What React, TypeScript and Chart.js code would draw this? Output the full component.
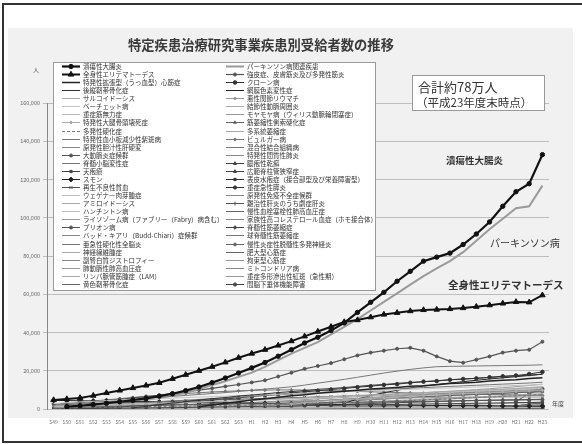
import React, { useEffect, useRef } from "react";
import { Chart, registerables } from "chart.js";
import { drawPoint } from "chart.js/helpers";

Chart.register(...registerables);

// x categories (fiscal years)
const years = ["S49","S50","S51","S52","S53","S54","S55","S56","S57","S58","S59","S60","S61","S62","S63","H1","H2","H3","H4","H5","H6","H7","H8","H9","H10","H11","H12","H13","H14","H15","H16","H17","H18","H19","H20","H21","H22","H23"];

// y axis
const yMin = 0;
const yMax = 160000;
const yStep = 20000;

// series values: each list runs from the first year of the series to H23
const uc = [1200,1700,2300,3000,3800,4700,5600,6700,8000,9600,11500,13800,16200,18800,21500,24300,27600,31000,34500,37500,41000,45000,50500,55800,61000,66800,72000,77300,79400,81500,86000,91500,97800,106000,113600,117800,133000];
const sle = [4700,5200,5800,7000,8400,9700,11000,12300,13700,15800,17900,20000,22100,24400,26800,29000,31000,33200,35500,38000,40500,43000,45500,46500,48000,49400,50300,51200,51800,52000,52300,52800,53500,54300,55200,56000,55800,59500];
const dcm = [1200,2100,3000,3800,4700,5400,6200,6900,7500,8200,8700,9300,9800,10400,10800,11300,11900,12200,12700,13300,13600,14000,14600,15000,15300,15900,16300];
const opll = [600,1400,2300,3100,3800,4700,5400,6000,6800,7300,7900,8600,9100,9600,10300,10700,11200,11800,12400,12800,13400,13900,14300,14800,15300,15600,16100,16500,17000,17300,17700,18200];
const sarcoid = [1000,1150,1400,1550,1800,2050,2250,2500,2800,3000,3250,3550,3800,4050,4400,4650,4950,5300,5600,5850,6200,6500,6750,7100,7400,7650,8000,8300,8550,8900,9200,9450,9800,10100,10350,10700,11000,11400];
const behcet = [2800,3300,3700,4050,4400,4700,4950,5250,5500,5700,6000,6250,6450,6700,7000,7250,7450,7700,8000,8300,8500,8800,9050,9300,9600,9800,10100,10300,10550,10800,11000,11300,11500,11750,12000,12300,12500,12800];
const mg = [1500,1700,1900,2050,2300,2500,2700,2900,3100,3250,3500,3700,3900,4050,4300,4500,4800,5000,5250,5500,5800,6000,6300,6600,6850,7200,7500,7800,8050,8400,8700,9000,9300,9550,9900,10200,10500,10900];
const onfh = [2500,3200,3800,4300,4800,5200,5600,6000,6400,6800,7100,7400,7700,8000,8300,8600,8900,9200,9500,9800];
const ms = [500,580,690,780,900,980,1100,1190,1300,1420,1500,1610,1700,1820,1900,2000,2150,2300,2500,2680,2900,3100,3320,3500,3700,3950,4200,4480,4800,5100,5350,5700,6000,6280,6600,6950,7300,7700];
const itp = [1500,2200,2900,3500,4100,4600,5100,5600,6100,6600,7100,7600,8100,8600,9200,9800,10400,11000,11600,12500,13500,14500,15500,16600,17700,18800,19800,20700,21500,22100,22300,22400,22500,22600,22700,22800,22900,23100];
const pbc = [1500,2300,3000,3600,4200,4700,5200,5600,6000,6400,6800,7200,7500,7900,8200,8500,8800,9100,9400,9700,10000,10300];
const takayasu = [800,1000,1200,1350,1500,1700,1800,1950,2100,2200,2300,2400,2500,2650,2700,2800,2900,3000,3100,3200,3300,3400,3500,3600,3700,3800,3900,4000,4100,4200,4300,4400,4500,4600,4700,4800,4900];
const scd = [1000,1500,2000,2500,3000,3400,3800,4200,4600,5000,5400,5800,6200,6600,7000,7400,7800,8200,8600,9000,9400,9700,10000,10300,10600,10900,11200,11500,11800,12100,12400,12700,13000,13300,13600,14000];
const pemphigus = [200,250,300,350,400,450,500,560,620,700,800,900,1000,1100,1200,1300,1400,1500,1600,1700,1800,1900,2000,2100,2200,2300,2400,2500,2600,2700,2800,2900,3000,3100,3200,3300,3400,3500];
const smon = [4500,4400,4300,4200,4100,4000,3900,3800,3700,3600,3500,3400,3300,3200,3100,3000,2900,2800,2700,2600,2500,2400,2300,2200,2100,2050,2000,1950,1900,1850,1800,1750,1700,1650,1600,1580,1550,1520];
const aa = [2000,2300,2600,2850,3100,3300,3500,3700,3900,4100,4300,4500,4700,4900,5100,5300,5500,5700,5900,6100,6300,6500,6700,6900,7100,7300,7500,7700,7900,8100,8300,8500,8700,8900,9100,9300,9500,9800];
const wegener = [100,150,200,250,300,350,400,450,500,550,600,650,700,750,800,850,900,950,1000,1100,1200,1300,1400,1500,1600,1700,1750,1830];
const amyloid = [100,150,200,250,300,350,400,450,500,550,600,650,700,750,800,850,900,950,1000,1050,1100,1150,1200,1250,1300,1350,1400,1450,1500,1600,1650,1700,1800];
const huntington = [100,130,160,190,220,250,280,310,340,370,400,430,460,490,520,550,580,610,640,670,700,720,740,760,780,800,820,840,850,860,870];
const lysosomal = [300,400,450,500,550,600,650,700,780,850,910];
const prion = [150,200,240,270,300,320,340,360,380,400,420,440,450,460,470];
const buddChiari = [100,120,140,150,160,170,180,190,200,210,220,230,240,246];
const sspe = [60,65,70,72,74,76,78,80,82,83,84,85,85,85];
const nf = [500,800,1100,1400,1700,1900,2100,2300,2500,2700,2900,3100,3300,3600];
const ald = [60,80,100,110,120,130,140,150,160,170,180,193];
const pah = [300,400,500,600,700,800,900,1000,1200,1400,1600,1800,2000,2300];
const lam = [300,450,560];
const olf = [800,1700,2360];

const parkinson = [1800,2800,3800,4800,5800,7000,8500,10500,12500,14500,16800,19000,22000,25500,29000,32000,35000,39000,43000,47000,51500,56000,60500,65000,69500,73500,77300,82000,88000,94000,99500,105000,106000,116800];
const scleroderma = [2500,3000,3500,4000,4500,5100,5800,6500,7200,8100,9000,9900,10800,11800,12800,13900,15000,17000,19000,21000,22500,24000,26000,28000,29500,30500,31500,32000,30500,27500,25000,24200,25800,27500,29500,30500,31000,35200];
const crohn = [300,500,800,1100,1500,1900,2400,2900,3500,4000,4700,5300,5800,6500,7200,7700,8400,9000,9500,10200,10700,11400,11900,12600,13000,13700,14300,14600,15300,15700,16000,16600,17100,17500,18300,19400];
const retinitis = [3000,5200,7000,8500,9800,11000,12000,12800,13600,14300,15000,15700,16300,16900,17500,18200];
const mra = [600,900,1200,1500,1800,2000,2200,2400,2600,2800,3000,3200,3400,3600,3800,4000,4200,4400,4600,4800,5000,5200,5400,5600,5800,5900,6000,6100,6200,6200,6300,6300,6300,6250,6255];
const pn = [200,300,400,500,600,700,800,900,1000,1100,1250,1400,1550,1700,1850,2000,2200,2400,2600,2800,3000,3300,3600,3900,4200,4500,4800,5100,5400,5700,6000,6300,6600,6900,7300,7700,8000];
const moyamoya = [500,900,1300,1700,2100,2500,2900,3300,3700,4100,4500,4900,5300,5700,6100,6500,6900,7300,7700,8100,8500,8900,9300,9700,10100,10600,11100,11700,12300,13000];
const als = [800,950,1100,1250,1400,1550,1700,1850,2000,2150,2300,2500,2700,2900,3100,3300,3500,3700,3900,4100,4300,4500,4700,4900,5200,5500,5800,6100,6400,6700,7000,7300,7600,7900,8200,8500,8800,9000];
const msa = [1000,1400,1800,2200,2600,3000,3400,3800,4200,4600,5000,5400,5800,6200,6600,7000,7400,7800,8200,8700,9200,9700,10200,10700,11200,11700];
const buerger = [3000,3600,4200,4800,5400,6000,6600,7100,7600,8100,8500,8900,9200,9500,9700,9900,10000,10000,9900,9800,9600,9400,9200,9000,8800,8600,8400,8200,8000,7900,7800,7700,7600,7500,7400,7300,7100];
const mctd = [2500,3000,3500,4000,4400,4800,5200,5600,6000,6400,6800,7100,7400,7700,8000,8300,8600,8900,9100];
const iip = [1500,2200,2800,3300,3700,4100,4400,4700,5000,5300,5600,5900,6200,6500,6800,7100,7400];
const psoriasis = [300,400,500,600,700,800,900,1000,1050,1100,1150,1200,1250,1300,1350,1400,1450,1500,1550,1600,1650,1700,1780,1840];
const lscs = [500,800,1100,1400,1700,2000,2300,2500,2700,2900,3100,3300,3500,3700,3900,4100,4300,4500,4600,4700,4800,4950,5100];
const eb = [100,120,140,160,180,200,210,220,230,240,250,260,270,280,290,300,305,310,315,320,325,328,330,332,334];
const sap = [300,400,500,600,700,800,900,1000,1100,1200,1300,1400,1500,1600,1700,1600,1500,1450,1480,1500,1500];
const pid = [400,500,600,700,800,850,900,950,1000,1050,1100,1150,1200,1220,1250,1280,1300,1320];
const fulminant = [200,220,250,230,260,280,270,250,240,260,280,300,290,270,260,280,300,320,310,290,280,270,260,280,300,290,280,270,260,250,240,250,260,250,245,245];
const cteph = [200,300,400,500,600,700,800,900,1000,1200,1400,1500,1650,1810];
const fhc = [120,135,141];
const sma = [400,600,712];
const sbma = [500,850,1095];
const cidp = [1500,2600,3180];
const hcm = [1600,2600,3140];
const rcm = [10,18,24];
const mito = [500,850,1090];
const sjs = [30,50,61];
const hypopit = [4000,8000,10500];

const seriesNames = [
  "潰瘍性大腸炎","全身性エリテマトーデス","特発性拡張型（うっ血型）心筋症","後縦靭帯骨化症","サルコイドーシス","ベーチェット病","重症筋無力症","特発性大腿骨頭壊死症","多発性硬化症","特発性血小板減少性紫斑病","原発性胆汁性肝硬変","大動脈炎症候群","脊髄小脳変性症","天疱瘡","スモン","再生不良性貧血","ウェゲナー肉芽腫症","アミロイドーシス","ハンチントン病","ライソゾーム病（ファブリー（Fabry）病含む）","プリオン病","バッド・キアリ（Budd-Chiari）症候群","亜急性硬化性全脳炎","神経線維腫症","副腎白質ジストロフィー","肺動脈性肺高血圧症","リンパ脈管筋腫症（LAM）","黄色靭帯骨化症",
  "パーキンソン病関連疾患","強皮症、皮膚筋炎及び多発性筋炎","クローン病","網膜色素変性症","悪性関節リウマチ","結節性動脈周囲炎","モヤモヤ病（ウィリス動脈輪閉塞症）","筋萎縮性側索硬化症","多系統萎縮症","ビュルガー病","混合性結合組織病","特発性間質性肺炎","膿疱性乾癬","広範脊柱管狭窄症","表皮水疱症（接合部型及び栄養障害型）","重症急性膵炎","原発性免疫不全症候群","難治性肝炎のうち劇症肝炎","慢性血栓塞栓性肺高血圧症","家族性高コレステロール血症（ホモ接合体）","脊髄性筋萎縮症","球脊髄性筋萎縮症","慢性炎症性脱髄性多発神経炎","肥大型心筋症","拘束型心筋症","ミトコンドリア病","重症多形滲出性紅斑（急性期）","間脳下垂体機能障害"
];

const seriesValues = [
  uc, sle, dcm, opll, sarcoid, behcet, mg, onfh, ms, itp, pbc, takayasu, scd, pemphigus, smon, aa, wegener, amyloid, huntington, lysosomal, prion, buddChiari, sspe, nf, ald, pah, lam, olf,
  parkinson, scleroderma, crohn, retinitis, mra, pn, moyamoya, als, msa, buerger, mctd, iip, psoriasis, lscs, eb, sap, pid, fulminant, cteph, fhc, sma, sbma, cidp, hcm, rcm, mito, sjs, hypopit
];

// styles: [color, lineWidth, pointStyle, radius, dash]
const seriesStyles: any[] = [
  ["#111", 2.2, "circle", 2.2], ["#111", 2, "triangle", 3.2], ["#222", 1.5, false, 0], ["#333", 1, false, 0],
  ["#aaa", 1, false, 0], ["#c4c4c4", 1, false, 0], ["#bbb", 1, false, 0], ["#aaa", 1, "rectRot", 1.5],
  ["#777", 1, false, 0, [3, 2]], ["#777", 1, false, 0], ["#888", 1, false, 0], ["#555", 1, "circle", 1.5],
  ["#777", 1, false, 0], ["#444", 1, "rect", 1.6], ["#222", 1, "rectRot", 2.4], ["#555", 1, "crossRot", 2],
  ["#bbb", 1, false, 0], ["#aaa", 1, false, 0], ["#bbb", 1, false, 0], ["#999", 1, false, 0],
  ["#555", 1, "circle", 1.5], ["#888", 1, false, 0], ["#777", 1, false, 0], ["#aaa", 1, false, 0],
  ["#888", 1, false, 0], ["#999", 1, false, 0], ["#aaa", 1, false, 0], ["#666", 1, false, 0],
  ["#9a9a9a", 2, false, 0], ["#555", 1.2, "circle", 1.5], ["#333", 1, "circle", 1.8], ["#222", 1, false, 0],
  ["#999", 1, "rect", 1.3], ["#aaa", 1, false, 0], ["#999", 1, false, 0], ["#666", 1, "triangle", 1.6],
  ["#aaa", 1, false, 0], ["#777", 1, "rectRot", 1.6], ["#777", 1, false, 0], ["#888", 1, false, 0],
  ["#444", 1, "triangle", 1.8], ["#444", 1, "triangle", 1.8], ["#333", 1, "rect", 1.6], ["#333", 1, "circle", 1.6],
  ["#888", 1, false, 0], ["#555", 1, "cross", 2], ["#666", 1, false, 0], ["#888", 1, false, 0],
  ["#444", 1, "rectRot", 1.8], ["#777", 1, false, 0], ["#666", 1, "circle", 1.4], ["#666", 1, false, 0],
  ["#999", 1, false, 0], ["#888", 1, false, 0], ["#999", 1, false, 0], ["#444", 1, "circle", 1.6]
];

const FONT = "'Noto Sans CJK JP', 'Noto Sans', sans-serif";

function padToYears(v: number[]): (number | null)[] {
  const pad: (number | null)[] = Array(years.length - v.length).fill(null);
  return pad.concat(v);
}

const boxLegend = {
  id: "boxLegend",
  afterDraw(chart: any) {
    const ctx = chart.ctx;
    ctx.save();
    ctx.fillStyle = "#fff";
    ctx.strokeStyle = "#9a9a9a";
    ctx.lineWidth = 1;
    ctx.fillRect(53.5, 62.5, 322, 228);
    ctx.strokeRect(53.5, 62.5, 322, 228);
    chart.data.datasets.forEach((ds: any, i: number) => {
      const col = i < 28 ? 0 : 1;
      const row = i % 28;
      const y = Math.round(66 + row * 8.07) + 0.5;
      const x0 = col === 0 ? 62 : 226;
      const x1 = x0 + 18;
      ctx.strokeStyle = ds.borderColor;
      ctx.lineWidth = ds.borderWidth;
      ctx.setLineDash(ds.borderDash || []);
      ctx.beginPath();
      ctx.moveTo(x0, y);
      ctx.lineTo(x1, y);
      ctx.stroke();
      ctx.setLineDash([]);
      if (ds.pointRadius > 0) {
        ctx.fillStyle = ds.pointBackgroundColor;
        ctx.strokeStyle = ds.pointBorderColor;
        ctx.lineWidth = 1;
        drawPoint(ctx, { pointStyle: ds.pointStyle, radius: ds.pointRadius, rotation: 0, borderWidth: 1 } as any, (x0 + x1) / 2, y);
      }
      ctx.fillStyle = "#333";
      ctx.font = `6.5px ${FONT}`;
      ctx.textBaseline = "middle";
      ctx.textAlign = "left";
      ctx.fillText(ds.label, x1 + 3, y);
    });
    ctx.restore();
  },
};

export default function App() {
  const ref = useRef<HTMLCanvasElement | null>(null);
  useEffect(() => {
    if (!ref.current) return;
    const datasets = seriesValues.map((v, i) => {
      const s = seriesStyles[i];
      return {
        label: seriesNames[i],
        data: padToYears(v),
        borderColor: s[0],
        backgroundColor: s[0],
        borderWidth: s[1],
        borderDash: s[4] || [],
        pointStyle: s[2] || "circle",
        pointRadius: s[2] ? s[3] : 0,
        pointBackgroundColor: s[0],
        pointBorderColor: s[0],
        pointBorderWidth: 1,
        tension: 0,
        fill: false,
      };
    });
    const chart = new Chart(ref.current, {
      type: "line",
      data: { labels: years, datasets },
      options: {
        responsive: false,
        animation: false,
        events: [],
        layout: { padding: { left: 0, top: 103, right: 33, bottom: 15 } },
        plugins: { legend: { display: false }, tooltip: { enabled: false }, title: { display: false } },
        scales: {
          x: {
            type: "category",
            offset: true,
            grid: { display: false },
            border: { display: false },
            ticks: { autoSkip: false, maxRotation: 0, minRotation: 0, padding: 2, color: "#777", font: { size: 5, family: FONT } },
            afterFit: (s: any) => { s.height = 20; },
          },
          y: {
            min: yMin,
            max: yMax,
            border: { display: true, color: "#888" },
            grid: { color: "#bdbdbd", lineWidth: 1, tickLength: 4 },
            ticks: { stepSize: yStep, padding: 3, color: "#666", font: { size: 5.5, family: FONT }, callback: (v: any) => Number(v).toLocaleString("en-US") },
            afterFit: (s: any) => { s.width = 47; },
          },
        },
      } as any,
      plugins: [boxLegend],
    });
    return () => chart.destroy();
  }, []);

  return (
    <div style={{ position: "fixed", left: 0, top: 0, width: 582, height: 444, background: "#fff", overflow: "hidden", fontFamily: FONT }}>
      <div style={{ position: "absolute", left: 2, top: 3, width: 600, height: 436, borderTop: "2px solid #333", borderLeft: "2px solid #333", borderBottom: "2px solid #333" }} />
      <div style={{ position: "absolute", left: 8, top: 28, width: 565, height: 390, background: "#f1f1f1" }} />
      <canvas ref={ref} width={582} height={444} style={{ position: "absolute", left: 0, top: 0 }} />
      <div style={{ position: "absolute", left: 128, top: 36, fontSize: 13.3, fontWeight: 700, color: "#3a3a3a", whiteSpace: "nowrap", lineHeight: "18px" }}>特定疾患治療研究事業疾患別受給者数の推移</div>
      <div style={{ position: "absolute", left: 33, top: 65, fontSize: 6, color: "#555" }}>人</div>
      <div style={{ position: "absolute", left: 412, top: 75, width: 133, height: 36, background: "#fff", border: "1px solid #999", boxSizing: "border-box" }}>
        <div style={{ position: "absolute", left: 5, top: 3, fontSize: 13, color: "#333", whiteSpace: "nowrap", lineHeight: "16px" }}>合計約78万人</div>
        <div style={{ position: "absolute", left: 3, top: 19, fontSize: 11.5, color: "#333", whiteSpace: "nowrap", lineHeight: "14px" }}>（平成23年度末時点）</div>
      </div>
      <div style={{ position: "absolute", left: 446, top: 153, fontSize: 9.5, fontWeight: 700, color: "#333", whiteSpace: "nowrap", lineHeight: "14px" }}>潰瘍性大腸炎</div>
      <div style={{ position: "absolute", left: 490, top: 236, fontSize: 10, color: "#333", whiteSpace: "nowrap", lineHeight: "14px" }}>パーキンソン病</div>
      <div style={{ position: "absolute", left: 448, top: 278, fontSize: 10.5, fontWeight: 700, color: "#333", whiteSpace: "nowrap", lineHeight: "14px" }}>全身性エリテマトーデス</div>
      <div style={{ position: "absolute", left: 552, top: 399, fontSize: 6, color: "#444", whiteSpace: "nowrap" }}>年度</div>
    </div>
  );
}
